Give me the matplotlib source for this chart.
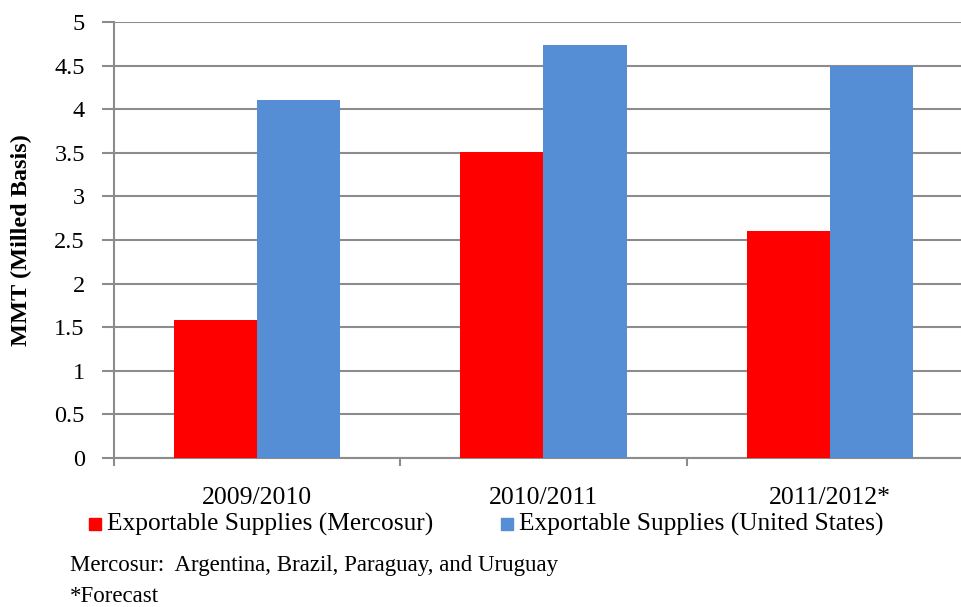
import matplotlib
matplotlib.use("Agg")
import matplotlib.pyplot as plt
from matplotlib.patches import Rectangle
import numpy as np

categories = ["2009/2010", "2010/2011", "2011/2012*"]
mercosur = [1.58, 3.51, 2.60]
united_states = [4.10, 4.74, 4.49]
yticks = [0, 0.5, 1, 1.5, 2, 2.5, 3, 3.5, 4, 4.5, 5]
ytick_labels = ["0", "0.5", "1", "1.5", "2", "2.5", "3", "3.5", "4", "4.5", "5"]
series_names = ["Exportable Supplies (Mercosur)", "Exportable Supplies (United States)"]

plt.rcParams['font.family'] = ['Liberation Serif', 'DejaVu Serif']

W, H = 962, 607
fig = plt.figure(figsize=(W / 100, H / 100), dpi=100)
left, right, bottom, top = 114, 973, 458, 22
ax = fig.add_axes([left / W, 1 - bottom / H, (right - left) / W, (bottom - top) / H])

red = "#FF0000"
blue = "#558ED5"
bw = 0.29
x = np.arange(len(categories))
ax.bar(x - bw / 2, mercosur, width=bw, color=red, zorder=3)
ax.bar(x + bw / 2, united_states, width=bw, color=blue, zorder=3)

ax.set_xlim(-0.5, 2.5)
ax.set_ylim(0, 5)
ax.set_yticks(yticks)
ax.set_yticklabels(ytick_labels, fontsize=17.5)
ax.yaxis.grid(True, color="#8C8C8C", linewidth=1.5, zorder=0)
ax.set_axisbelow(True)

ax.set_xticks([-0.5, 0.5, 1.5, 2.5])
ax.set_xticklabels([])
ax.set_xticks(x, minor=True)
ax.set_xticklabels(categories, minor=True, fontsize=18.5)
ax.tick_params(axis="x", which="minor", length=0, pad=21)
ax.tick_params(axis="x", which="major", length=6, color="#8C8C8C", width=1.5)
ax.tick_params(axis="y", length=9, color="#8C8C8C", width=1.5, pad=12)

for s in ["top", "right"]:
    ax.spines[s].set_visible(False)
for s in ["left", "bottom"]:
    ax.spines[s].set_color("#8C8C8C")
    ax.spines[s].set_linewidth(1.5)

ax.set_ylabel("MMT (Milled Basis)", fontsize=17.5, fontweight="bold")
ax.yaxis.set_label_coords((32 - left) / (right - left), 0.5)

# legend (manual placement)
leg_y = 524
sq = 12
for xs, xt, c, name in [(89, 107, red, series_names[0]), (501, 519, blue, series_names[1])]:
    fig.patches.append(Rectangle((xs / W, 1 - (leg_y + sq / 2) / H), sq / W, sq / H,
                                 transform=fig.transFigure, color=c))
    fig.text(xt / W, 1 - leg_y / H, name, fontsize=18.3, va="center", ha="left")

fig.text(70 / W, 1 - 566 / H, "Mercosur:  Argentina, Brazil, Paraguay, and Uruguay",
         fontsize=16.5, va="center", ha="left")
fig.text(70 / W, 1 - 596 / H, "*Forecast", fontsize=16.5, va="center", ha="left")

fig.savefig("out.png", dpi=100)
